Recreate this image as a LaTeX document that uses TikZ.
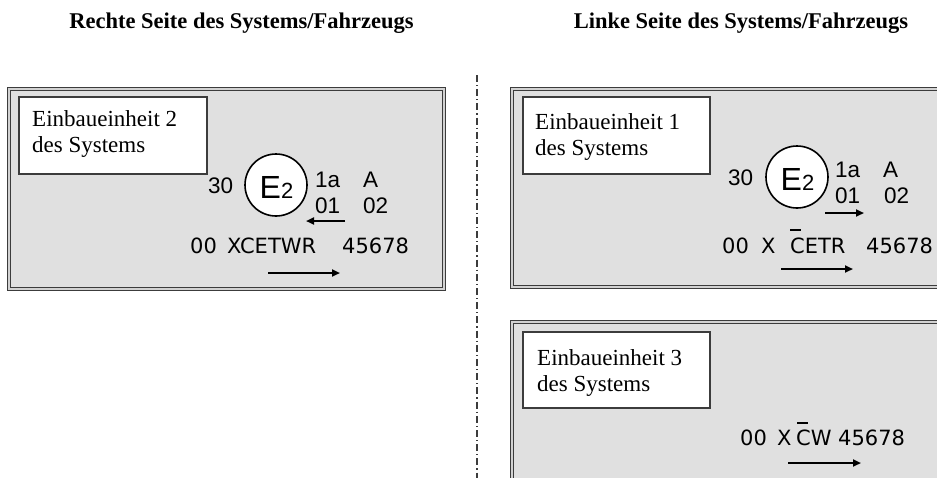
\documentclass[tikz,border=0pt]{standalone}
\usepackage{fontspec}
\setmainfont{Liberation Serif}
\newfontfamily\arialf{Liberation Sans}
\newfontfamily\codef{DejaVu Sans}
\usetikzlibrary{arrows.meta}
\definecolor{boxgray}{RGB}{224,224,224}
\definecolor{framegray}{RGB}{60,60,60}
\tikzset{
  panel/.style={draw=framegray, line width=0.9pt, double=gray!35, double distance=1.6pt, fill=boxgray},
  labelbox/.style={draw=framegray, line width=1.1pt, fill=white},
  title/.style={inner sep=0pt, anchor=base, font=\bfseries\fontsize{22.5}{26}\selectfont},
  lbl/.style={inner sep=0pt, anchor=base west, font=\fontsize{23}{27}\selectfont},
  mk/.style={inner sep=0pt, anchor=base west, font=\arialf\fontsize{22.5}{24}\selectfont},
  ecode/.style={inner sep=0pt, anchor=base, font=\arialf\fontsize{32}{32}\selectfont},
  code/.style={inner sep=0pt, anchor=base west, font=\codef\fontsize{21}{24}\selectfont},
  dirarrow/.style={line width=2pt, -{Triangle[length=8pt,width=7pt]}},
  ring/.style={draw=black, line width=1.6pt, fill=white},
  sepline/.style={draw=framegray, line width=1.2pt, dash pattern=on 7pt off 3pt on 1.2pt off 3pt},
  barline/.style={line width=1.5pt}
}
\begin{document}
\begin{tikzpicture}[x=1pt,y=-1pt]
\useasboundingbox (0,0) rectangle (937,477);
\clip (0,0) rectangle (937,477);

% titles
\node[title] (t1) at (241.5,28) {Rechte Seite des Systems/Fahrzeugs};
\node[title] (t2) at (741,28) {Linke Seite des Systems/Fahrzeugs};

% separator
\coordinate (s1) at (477,75);
\coordinate (s2) at (477,480);
\draw[sepline] (s1) -- (s2);

% ---------- left panel ----------
\draw[panel] (9,89) rectangle (444,289);
\draw[labelbox] (19,97) rectangle (207,174);
\node[lbl] (l2a) at (32,126) {Einbaueinheit 2};
\node[lbl] (l2b) at (32,152) {des Systems};
\node[ring, circle, minimum size=62pt, inner sep=0pt] (c2) at (276,185) {};
\node[ecode] (e2) at (276.5,198) {E{\fontsize{22}{22}\selectfont 2}};
\node[mk] (n30a) at (208,193) {30};
\node[mk] (n1aa) at (315,187) {1a};
\node[mk] (nAa) at (363,187) {A};
\node[mk] (n01a) at (315,213) {01};
\node[mk] (n02a) at (363,213) {02};
\coordinate (a1s) at (345,221);
\coordinate (a1e) at (306,221);
\draw[dirarrow] (a1s) -- (a1e);
\node[code] (c00a) at (190,253) {00};
\node[code] (cxa) at (227,253) {XCETWR};
\node[code] (cna) at (342,253) {45678};
\coordinate (a2s) at (268,273);
\coordinate (a2e) at (340,273);
\draw[dirarrow] (a2s) -- (a2e);

% ---------- right upper panel ----------
\draw[panel] (512,89) rectangle (960,287);
\draw[labelbox] (523,97) rectangle (710,174);
\node[lbl] (l1a) at (535,129) {Einbaueinheit 1};
\node[lbl] (l1b) at (535,155) {des Systems};
\node[ring, circle, minimum size=62pt, inner sep=0pt] (c1) at (797,177) {};
\node[ecode] (e1) at (797.5,190) {E{\fontsize{22}{22}\selectfont 2}};
\node[mk] (n30b) at (728,185) {30};
\node[mk] (n1ab) at (835,177) {1a};
\node[mk] (nAb) at (883,177) {A};
\node[mk] (n01b) at (835,203) {01};
\node[mk] (n02b) at (884,203) {02};
\coordinate (b1s) at (825,213);
\coordinate (b1e) at (864,213);
\draw[dirarrow] (b1s) -- (b1e);
\node[code] (c00b) at (722,253) {00};
\node[code] (cxb) at (761,253) {X};
\node[code] (cceb) at (790,253) {CETR};
\coordinate (bar1s) at (790,230);
\coordinate (bar1e) at (801,230);
\draw[barline] (bar1s) -- (bar1e);
\node[code] (cnb) at (866,253) {45678};
\coordinate (b2s) at (781,269);
\coordinate (b2e) at (853,269);
\draw[dirarrow] (b2s) -- (b2e);

% ---------- right lower panel ----------
\draw[panel] (512,322) rectangle (960,500);
\draw[labelbox] (523,332) rectangle (710,408);
\node[lbl] (l3a) at (537,365) {Einbaueinheit 3};
\node[lbl] (l3b) at (537,391) {des Systems};
\node[code] (c00c) at (740,445) {00};
\node[code] (cxc) at (777,445) {X};
\node[code] (ccwc) at (796,445) {CW};
\coordinate (bar2s) at (797,423);
\coordinate (bar2e) at (808,423);
\draw[barline] (bar2s) -- (bar2e);
\node[code] (cnc) at (838,445) {45678};
\coordinate (c2s) at (788,463);
\coordinate (c2e) at (861,463);
\draw[dirarrow] (c2s) -- (c2e);
\end{tikzpicture}
\end{document}
